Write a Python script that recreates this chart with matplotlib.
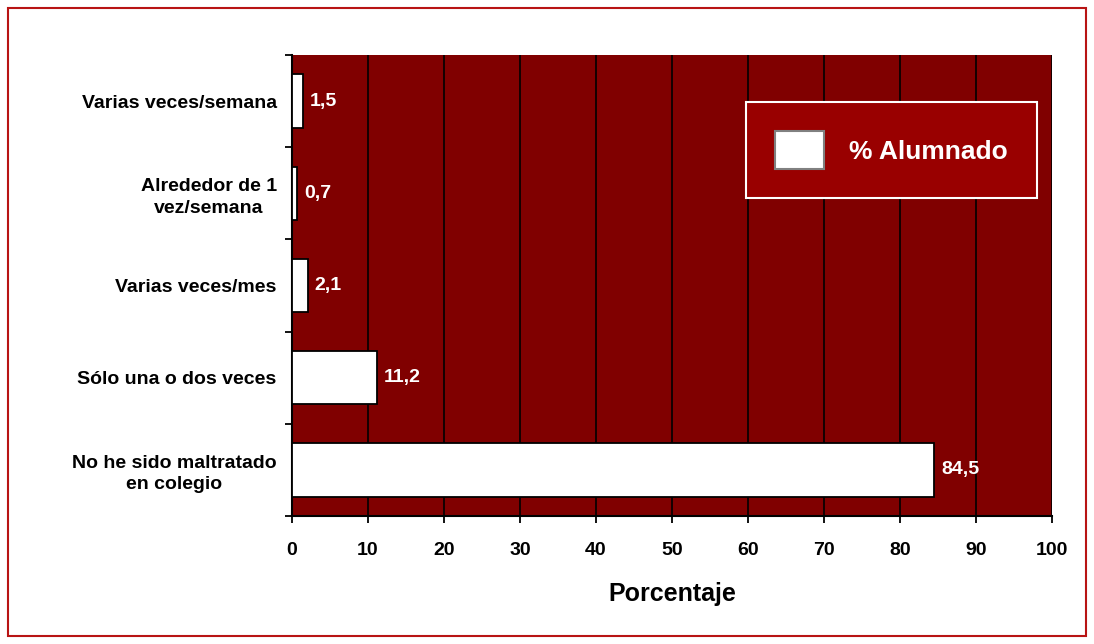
import matplotlib
matplotlib.use("Agg")
import matplotlib.pyplot as plt
from matplotlib.patches import Rectangle, Patch

categories = ["Varias veces/semana", "Alrededor de 1\nvez/semana", "Varias veces/mes",
              "Sólo una o dos veces", "No he sido maltratado\nen colegio"]
values = [1.5, 0.7, 2.1, 11.2, 84.5]
value_labels = ["1,5", "0,7", "2,1", "11,2", "84,5"]
xticks = [0, 10, 20, 30, 40, 50, 60, 70, 80, 90, 100]
series_name = "% Alumnado"
xlabel = "Porcentaje"

plt.rcParams['font.family'] = ['Liberation Sans', 'DejaVu Sans']
plt.rcParams['font.weight'] = 'bold'

W, H = 1094, 644
fig = plt.figure(figsize=(W / 100, H / 100), dpi=100)
fig.patch.set_facecolor('white')

# outer border
fig.add_artist(Rectangle((8 / W, 8 / H), (1086 - 8) / W, (636 - 8) / H,
                         transform=fig.transFigure, fill=False,
                         edgecolor='#B81414', linewidth=1.5))

x0, x1 = 292, 1052
y0, y1 = 55, 516
ax = fig.add_axes([x0 / W, 1 - y1 / H, (x1 - x0) / W, (y1 - y0) / H])
ax.set_facecolor('#800000')

n = len(categories)
ypos = list(range(n))
ax.barh(ypos, values, height=0.58, color='white', edgecolor='black',
        linewidth=1.3, zorder=3, label=series_name)
for y, v, lab in zip(ypos, values, value_labels):
    ax.text(v + 0.9, y, lab, va='center', ha='left', color='white',
            fontsize=14, fontweight='bold', zorder=4)

ax.set_xlim(0, 100)
ax.set_ylim(n - 0.5, -0.5)
ax.set_xticks(xticks)
ax.set_xticklabels([str(t) for t in xticks], fontsize=14, fontweight='bold')
ax.set_yticks([i - 0.5 for i in range(n + 1)], minor=False)
ax.set_yticklabels([''] * (n + 1))
ax.set_yticks(ypos, minor=True)
ax.set_yticklabels(categories, minor=True, fontsize=14, fontweight='bold',
                   ha='right', multialignment='center', linespacing=1.35)
ax.tick_params(axis='y', which='minor', length=0, pad=11)
ax.tick_params(axis='y', which='major', length=5, width=1.3, direction='out')
ax.tick_params(axis='x', length=5, width=1.3, direction='out', pad=14)
ax.grid(axis='x', color='black', linewidth=1.2, zorder=1)
ax.set_axisbelow(True)
for s in ax.spines.values():
    s.set_linewidth(1.5)
    s.set_color('black')
ax.spines['top'].set_visible(False)
ax.spines['right'].set_visible(False)

ax.set_xlabel(xlabel, fontsize=18, fontweight='bold', labelpad=16)

fs_leg = 19
leg = ax.legend(handles=[Patch(facecolor='white', edgecolor='#808080', linewidth=1.5, label=series_name)],
                loc='upper left', bbox_to_anchor=((746 - x0) / (x1 - x0), 1 - (102 - y0) / (y1 - y0)),
                frameon=True, fancybox=False, fontsize=fs_leg, handlelength=1.85, handleheight=1.85,
                borderpad=1.1, handletextpad=0.95, borderaxespad=0)
frame = leg.get_frame()
frame.set_facecolor('#990000')
frame.set_edgecolor('white')
frame.set_linewidth(1.5)
frame.set_alpha(1)
for t in leg.get_texts():
    t.set_color('white')
    t.set_fontweight('bold')

fig.savefig('out.png', dpi=100)
